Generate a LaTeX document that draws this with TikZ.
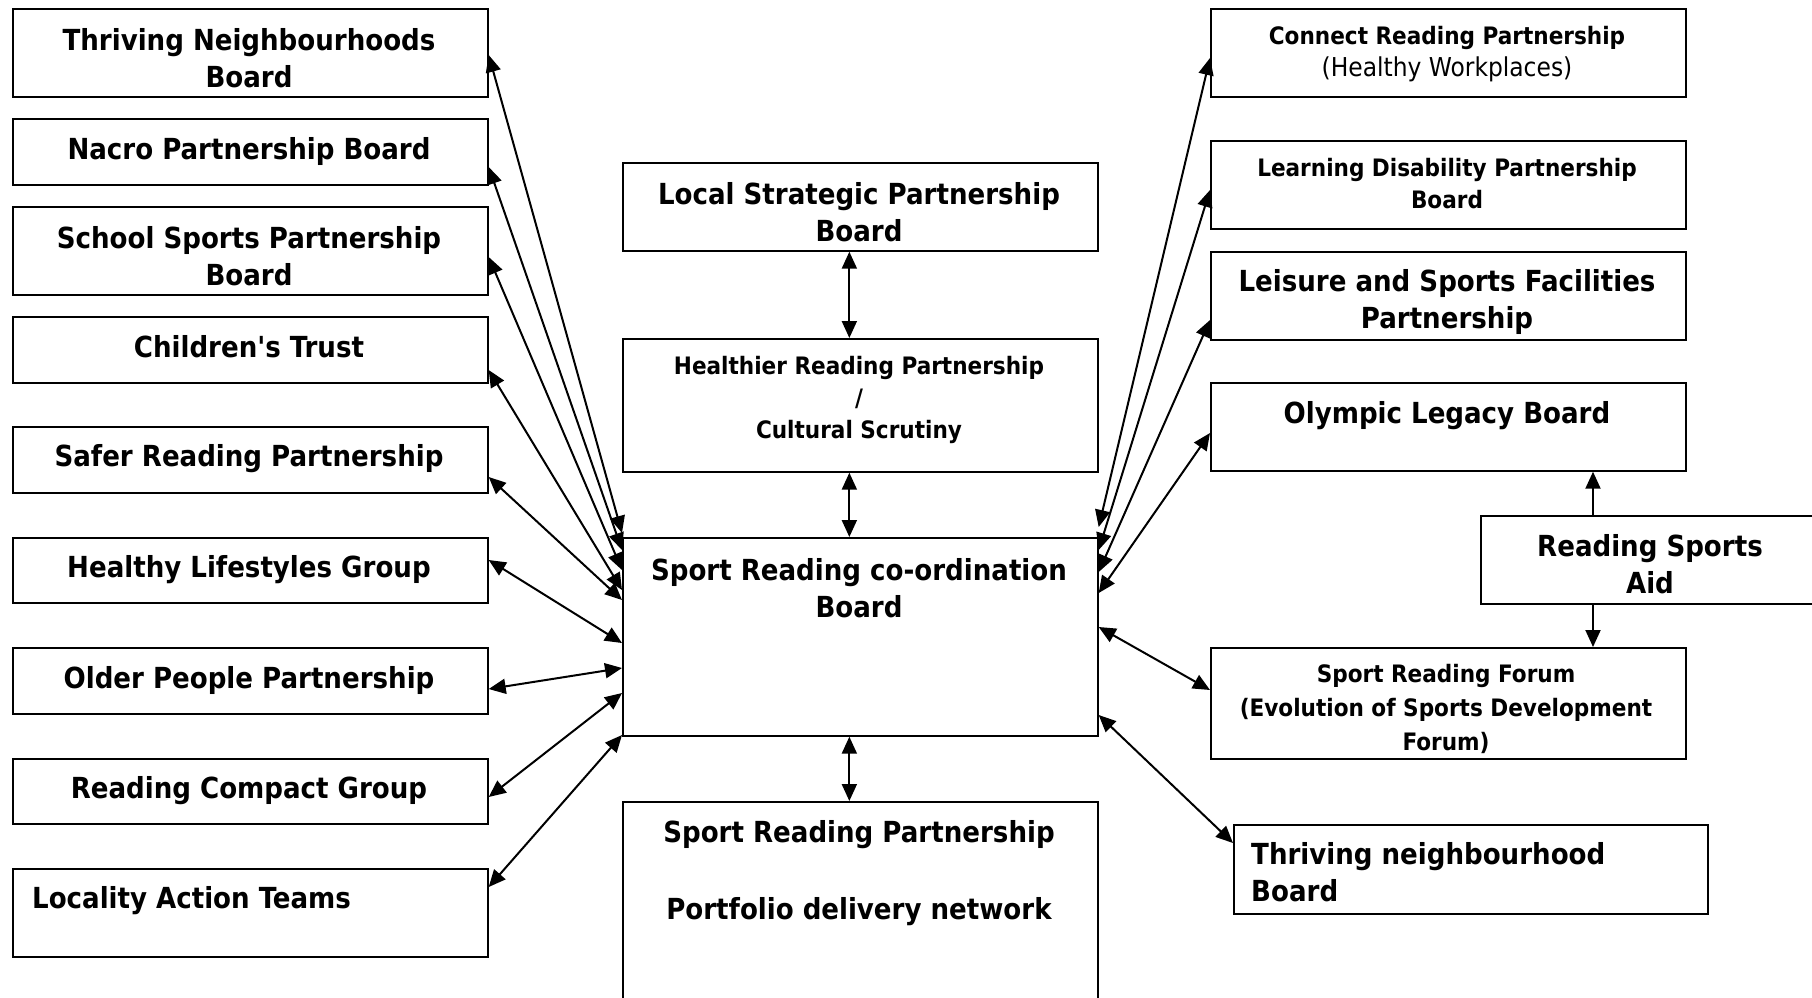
\documentclass[tikz,border=0pt]{standalone}
\usepackage{fontspec}
\IfFontExistsTF{DejaVu Sans Condensed}{\setmainfont{DejaVu Sans Condensed}[Ligatures=TeXOff]}{\setmainfont{DejaVu Sans}[Ligatures=TeXOff]}
\usetikzlibrary{arrows.meta}
\newcommand\mkbox[5]{\node[box, minimum width=#4-#2, minimum height=#5-#3] (#1) at (#2,#3) {};}
\begin{document}
\begin{tikzpicture}[x=1pt,y=-1pt,
 box/.style={draw, line width=1.7pt, inner sep=0pt, anchor=north west},
 big/.style={font=\fontsize{29}{37}\selectfont\bfseries, align=center, inner sep=0pt},
 bigl/.style={font=\fontsize{29}{37}\selectfont\bfseries, align=left, inner sep=0pt, anchor=west},
 small/.style={font=\fontsize{24}{32}\selectfont\bfseries, align=center, inner sep=0pt},
 link/.style={line width=2pt, {Triangle[length=17pt,width=15pt]}-{Triangle[length=17pt,width=15pt]}},
 one/.style={line width=2pt, -{Triangle[length=17pt,width=15pt]}}]
\useasboundingbox (0,0) rectangle (1812,997);
% left column
\mkbox{tnb}{12}{8}{487}{96}
\mkbox{nacro}{12}{118}{487}{184}
\mkbox{school}{12}{206}{487}{294}
\mkbox{child}{12}{316}{487}{382}
\mkbox{safer}{12}{426}{487}{492}
\mkbox{healthy}{12}{537}{487}{602}
\mkbox{older}{12}{647}{487}{713}
\mkbox{compact}{12}{758}{487}{823}
\mkbox{locality}{12}{868}{487}{956}
% centre column
\mkbox{lsp}{622}{162}{1097}{250}
\mkbox{hrp}{622}{338}{1097}{471}
\mkbox{coord}{622}{537}{1097}{735}
\mkbox{srp}{622}{801}{1097}{1010}
% right column
\mkbox{connect}{1210}{8}{1685}{96}
\mkbox{ldp}{1210}{140}{1685}{228}
\mkbox{leisure}{1210}{251}{1685}{339}
\mkbox{olympic}{1210}{382}{1685}{470}
\mkbox{aid}{1480}{515}{1830}{603}
\mkbox{forum}{1210}{647}{1685}{758}
\mkbox{tnb2}{1233}{824}{1707}{913}
% texts
\node[big] (t-tnb) at (249,58) {Thriving Neighbourhoods\\Board};
\node[big] (t-nacro) at (249,151) {Nacro Partnership Board};
\node[big] (t-school) at (249,256) {School Sports Partnership\\Board};
\node[big] (t-child) at (249,347) {Children's Trust};
\node[big] (t-safer) at (249,459) {Safer Reading Partnership};
\node[big] (t-healthy) at (249,570) {Healthy Lifestyles Group};
\node[big] (t-older) at (249,680) {Older People Partnership};
\node[big] (t-compact) at (249,791) {Reading Compact Group};
\node[bigl] (t-locality) at (32,901) {Locality Action Teams};
\node[big] (t-lsp) at (859,212) {Local Strategic Partnership\\Board};
\node[small] (t-hrp) at (859,400) {Healthier Reading Partnership\\/\\Cultural Scrutiny};
\node[big] (t-coord) at (859,588) {Sport Reading co-ordination\\Board};
\node[big] (t-srp) at (859,835) {Sport Reading Partnership};
\node[big] (t-pdn) at (859,912) {Portfolio delivery network};
\node[small] (t-connect) at (1447,54) {Connect Reading Partnership\\{\mdseries\fontsize{26}{32}\selectfont(Healthy Workplaces)}};
\node[small] (t-ldp) at (1447,184) {Learning Disability Partnership\\Board};
\node[big] (t-leisure) at (1447,302) {Leisure and Sports Facilities\\Partnership};
\node[big] (t-olympic) at (1447,416) {Olympic Legacy Board};
\node[big] (t-aid) at (1650,564) {Reading Sports\\Aid};
\node[small, font=\fontsize{24}{34}\selectfont\bfseries] (t-forum) at (1446,709) {Sport Reading Forum\\(Evolution of Sports Development\\Forum)};
\node[bigl] (t-tnb2) at (1251,872) {Thriving neighbourhood\\Board};
% left connectors
\draw[link] ([yshift=-47pt]tnb.north east) -- ([yshift=4pt]coord.north west);
\draw[link] ([yshift=-49pt]nacro.north east) -- ([yshift=-13pt]coord.north west);
\draw[link] ([yshift=-51pt]school.north east) -- ([yshift=-33pt]coord.north west);
\draw[link] ([yshift=-54pt]child.north east) -- ([yshift=-53pt]coord.north west);
\draw[link] ([yshift=-51pt]safer.north east) -- ([yshift=-63pt]coord.north west);
\draw[link] ([yshift=-23pt]healthy.north east) -- ([yshift=-106pt]coord.north west);
\draw[link] ([yshift=-42pt]older.north east) -- ([yshift=-131pt]coord.north west);
\draw[link] ([yshift=-39pt]compact.north east) -- ([yshift=-156pt]coord.north west);
\draw[link] ([yshift=-19pt]locality.north east) -- ([yshift=-198pt]coord.north west);
% centre connectors
\draw[link] ([xshift=-11pt]lsp.south) -- ([xshift=-11pt]hrp.north);
\draw[link] ([xshift=-11pt]hrp.south) -- ([xshift=-11pt]coord.north);
\draw[link] ([xshift=-11pt]coord.south) -- ([xshift=-11pt]srp.north);
% right connectors
\draw[link] ([yshift=10pt]coord.north east) -- ([yshift=-50pt]connect.north west);
\draw[link] ([yshift=-13pt]coord.north east) -- ([yshift=-50pt]ldp.north west);
\draw[link] ([yshift=-35pt]coord.north east) -- ([yshift=-69pt]leisure.north west);
\draw[link] ([yshift=-56pt]coord.north east) -- ([yshift=-51pt]olympic.north west);
\draw[link] ([yshift=-90pt]coord.north east) -- ([yshift=-43pt]forum.north west);
\draw[link] ([yshift=-178pt]coord.north east) -- ([yshift=-19pt]tnb2.north west);
% Reading Sports Aid
\draw[one] ([xshift=113pt]aid.north west) -- ([xshift=113pt]aid.north west |- olympic.south);
\draw[one] ([xshift=113pt]aid.south west) -- ([xshift=113pt]aid.south west |- forum.north);
\end{tikzpicture}
\end{document}
